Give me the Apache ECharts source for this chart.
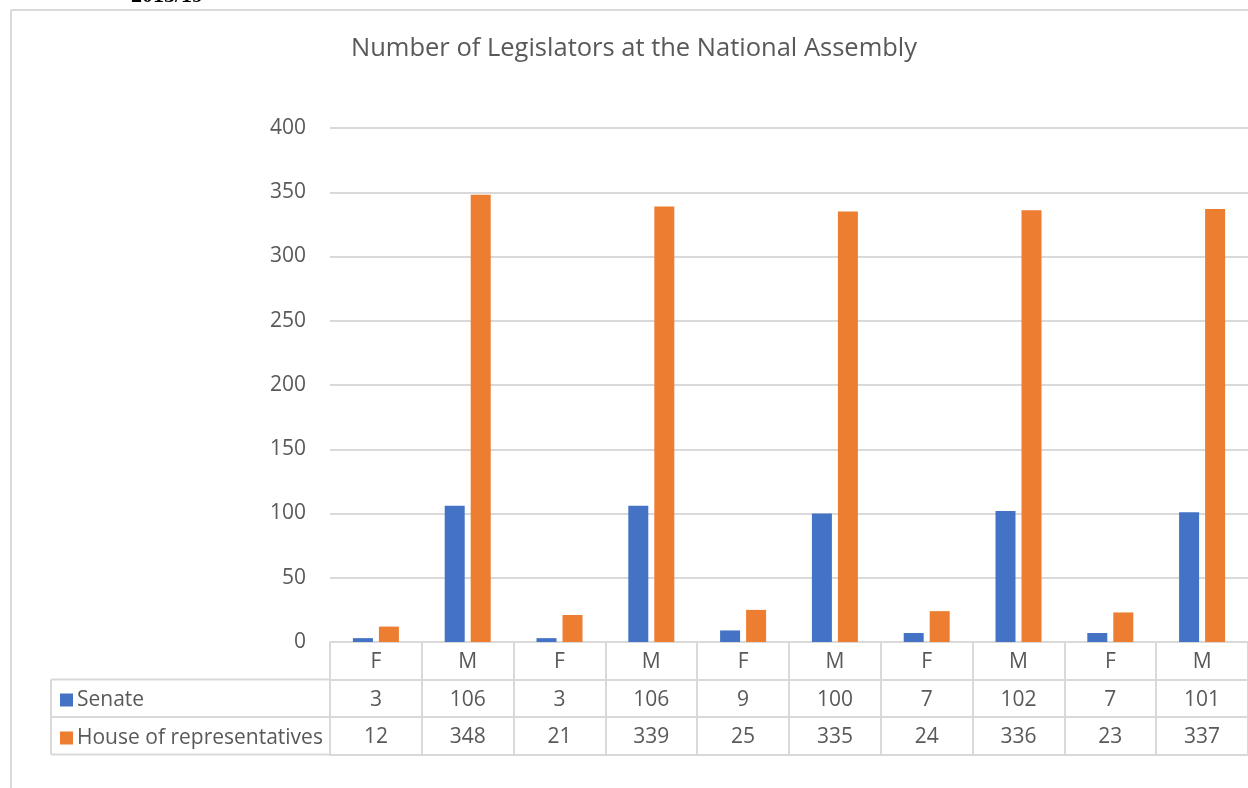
<!DOCTYPE html>
<html>
<head>
<meta charset="utf-8">
<script src="https://cdn.jsdelivr.net/npm/echarts@6/dist/echarts.min.js"></script>
<style>
  html, body { margin: 0; padding: 0; background: #fff; }
  #chart { width: 1248px; height: 788px; }
</style>
</head>
<body>
<div id="chart"></div>
<script>
// Chart data
const categories = ['F', 'M', 'F', 'M', 'F', 'M', 'F', 'M', 'F', 'M'];
const senate = [3, 106, 3, 106, 9, 100, 7, 102, 7, 101];
const house = [12, 348, 21, 339, 25, 335, 24, 336, 23, 337];
const yTicks = [0, 50, 100, 150, 200, 250, 300, 350, 400];

const FONT = '"Open Sans", sans-serif';
const GREY = '#595959';
const LINE = '#d9d9d9';
const ROW = 37.5;
const FS = 21;

// one x axis per table row, stacked below the plot
function tableAxis(offset, values) {
    return {
        type: 'category',
        gridIndex: 0,
        position: 'bottom',
        offset: offset,
        data: categories,
        axisLine: { show: true, lineStyle: { color: LINE, width: 2 } },
        axisTick: { show: values != null, interval: 0, length: ROW, lineStyle: { color: LINE, width: 2 } },
        axisLabel: {
            show: values != null,
            interval: 0,
            margin: 10,
            color: GREY,
            fontFamily: FONT,
            fontSize: FS,
            formatter: (v, i) => String(values ? values[i] : '')
        },
        splitLine: { show: false }
    };
}

const chart = echarts.init(document.getElementById('chart'));
const option = {
    animation: false,
    title: {
        text: 'Number of Legislators at the National Assembly',
        left: 346,
        top: 31,
        textStyle: { color: GREY, fontFamily: FONT, fontSize: 25.5, fontWeight: 'normal' }
    },
    legend: {
        orient: 'vertical',
        left: 55,
        top: 684,
        itemWidth: 13,
        itemHeight: 13,
        itemGap: 16,
        icon: 'rect',
        textStyle: { color: GREY, fontFamily: FONT, fontSize: FS, lineHeight: 22, padding: [0, 0, 0, -1] },
        data: ['Senate', 'House of representatives']
    },
    grid: { left: 330, right: -4, top: 128, bottom: 146, containLabel: false },
    xAxis: [
        tableAxis(0, categories),
        tableAxis(ROW, senate),
        tableAxis(ROW * 2, house),
        tableAxis(ROW * 3, null)
    ],
    yAxis: {
        type: 'value',
        min: yTicks[0],
        max: yTicks[yTicks.length - 1],
        interval: 50,
        axisLine: { show: false },
        axisTick: { show: false },
        axisLabel: { color: GREY, fontFamily: FONT, fontSize: FS, margin: 24 },
        splitLine: { lineStyle: { color: LINE, width: 2 } }
    },
    series: [
        {
            name: 'Senate',
            type: 'bar',
            data: senate,
            barWidth: 20,
            barGap: '30%',
            itemStyle: { color: '#4472C4' }
        },
        {
            name: 'House of representatives',
            type: 'bar',
            data: house,
            barWidth: 20,
            barGap: '30%',
            itemStyle: { color: '#ED7D31' }
        }
    ],
    graphic: [
        // outer frame
        { type: 'line', shape: { x1: 11, y1: 10, x2: 1248, y2: 10 }, style: { stroke: LINE, lineWidth: 2 } },
        { type: 'line', shape: { x1: 11, y1: 10, x2: 11, y2: 788 }, style: { stroke: LINE, lineWidth: 2 } },
        // row header cells of the data table
        { type: 'line', shape: { x1: 51, y1: 679.5, x2: 330, y2: 679.5 }, style: { stroke: LINE, lineWidth: 2 } },
        { type: 'line', shape: { x1: 51, y1: 717, x2: 330, y2: 717 }, style: { stroke: LINE, lineWidth: 2 } },
        { type: 'line', shape: { x1: 51, y1: 754.5, x2: 330, y2: 754.5 }, style: { stroke: LINE, lineWidth: 2 } },
        { type: 'line', shape: { x1: 51, y1: 679.5, x2: 51, y2: 754.5 }, style: { stroke: LINE, lineWidth: 2 } },
        // clipped heading from the page above the chart
        {
            type: 'text', left: 131, top: -15,
            style: { text: '2015/19', fill: '#000', font: 'bold 22px "Liberation Serif", serif' }
        }
    ]
};
chart.setOption(option);
</script>
</body>
</html>
